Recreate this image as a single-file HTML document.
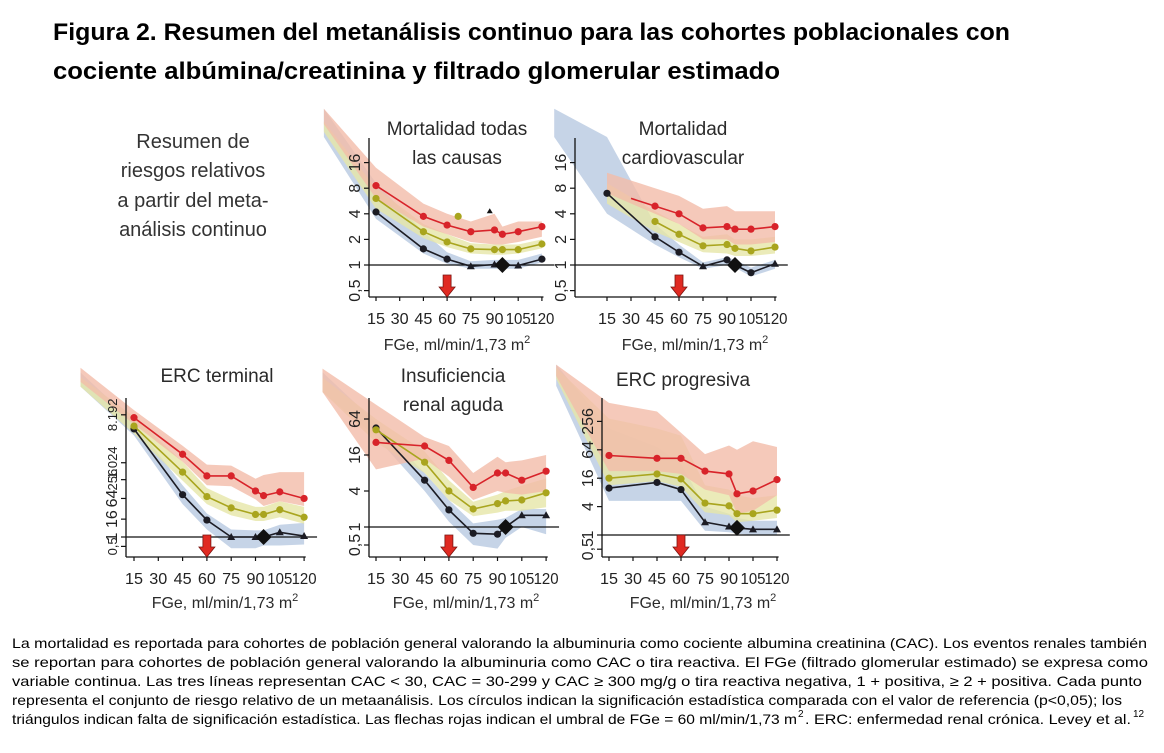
<!DOCTYPE html>
<html><head><meta charset="utf-8">
<style>
html,body{margin:0;padding:0;background:#fff;}
svg{display:block;}
text{font-family:"Liberation Sans",sans-serif;}
</style></head>
<body>
<svg id="fig" width="1164" height="753" viewBox="0 0 1164 753" xmlns="http://www.w3.org/2000/svg">
<text x="53" y="40" font-size="24" font-weight="bold" fill="#000" textLength="957" lengthAdjust="spacingAndGlyphs">Figura 2. Resumen del metanálisis continuo para las cohortes poblacionales con</text>
<text x="53" y="79" font-size="24" font-weight="bold" fill="#000" textLength="727" lengthAdjust="spacingAndGlyphs">cociente albúmina/creatinina y filtrado glomerular estimado</text>
<g font-size="20" fill="#333" text-anchor="middle">
<text x="193" y="148">Resumen de</text>
<text x="193" y="177">riesgos relativos</text>
<text x="193" y="207">a partir del meta-</text>
<text x="193" y="236">análisis continuo</text>
</g>
<g id="panels"></g>
<g font-size="14" fill="#000">
<text x="12" y="648" textLength="1135" lengthAdjust="spacingAndGlyphs">La mortalidad es reportada para cohortes de población general valorando la albuminuria como cociente albumina creatinina (CAC). Los eventos renales también</text>
<text x="12" y="667" textLength="1136" lengthAdjust="spacingAndGlyphs">se reportan para cohortes de población general valorando la albuminuria como CAC o tira reactiva. El FGe (filtrado glomerular estimado) se expresa como</text>
<text x="12" y="686" textLength="1130" lengthAdjust="spacingAndGlyphs">variable continua. Las tres líneas representan CAC &lt; 30, CAC = 30-299 y CAC ≥ 300 mg/g o tira reactiva negativa, 1 + positiva, ≥ 2 + positiva. Cada punto</text>
<text x="12" y="705" textLength="1110" lengthAdjust="spacingAndGlyphs">representa el conjunto de riesgo relativo de un metaanálisis. Los círculos indican la significación estadística comparada con el valor de referencia (p&lt;0,05); los</text>
<text x="12" y="724" textLength="785" lengthAdjust="spacingAndGlyphs">triángulos indican falta de significación estadística. Las flechas rojas indican el umbral de FGe = 60 ml/min/1,73 m</text>
<text x="798" y="717" font-size="10">2</text>
<text x="805" y="724" font-size="14" textLength="326" lengthAdjust="spacingAndGlyphs">. ERC: enfermedad renal crónica. Levey et al.</text>
<text x="1133" y="717" font-size="10">12</text>
</g>
</svg>
<script>
// ---- data (log2 of relative risk) ----
const xTicks=[15,30,45,60,75,90,105,120];
const ptX=[15,45,60,75,90,95,105,120];
const bandX=[-18,15,45,60,75,90,95,105,120];
const blkShapes1=['c','c','c','t','t','d','t','c'];
const blkShapes2=['c','c','c','t','c','d','c','t'];
const blkShapes3=['c','c','c','t','t','d','t','t'];
const blkShapes4=['c','c','c','c','c','d','t','t'];
const blkShapes5=['c','c','c','t','t','d','t','t'];
// Panel 1 Mortalidad todas las causas
const p1Red=[3.1,1.9,1.56,1.3,1.37,1.2,1.3,1.5];
const p1Yel=[2.6,1.3,0.9,0.63,0.6,0.6,0.6,0.82];
const p1Blk=[2.07,0.63,0.23,-0.05,0.02,0,-0.02,0.23];
const p1RedHi=[6.1,3.8,2.4,2.0,1.7,2.0,1.5,1.7,1.7], p1RedLo=[5.5,2.6,1.5,1.2,0.9,0.8,0.8,0.9,1.1];
const p1YelHi=[5.6,3.0,1.6,1.2,0.85,0.8,0.8,0.8,1.0], p1YelLo=[5.2,2.2,1.05,0.7,0.45,0.4,0.4,0.45,0.65];
const p1BluHi=[6.1,3.2,1.3,0.5,0.15,0.2,0.2,0.2,0.45], p1BluLo=[5.0,1.8,0.45,0.05,-0.15,-0.15,-0.15,-0.15,0.1];
// Panel 2 Mortalidad cardiovascular
const p2RedX=[30,45,60,75,90,95,105,120];
const p2Red=[2.6,2.3,2.0,1.45,1.5,1.4,1.4,1.5];
const p2RedMarks=['n','c','c','c','c','c','c','c'];
const p2YelX=[45,60,75,90,95,105,120];
const p2Yel=[1.7,1.2,0.75,0.8,0.65,0.55,0.7];
const p2Blk=[2.8,1.1,0.5,-0.05,0.2,0,-0.3,0.05];
const p2RedHi=[null,3.6,3.0,2.7,2.2,2.3,2.1,2.1,2.1], p2RedLo=[null,2.8,2.0,1.6,1.0,1.0,0.8,0.8,0.9];
const p2YelHi=[null,3.2,2.1,1.6,1.1,1.2,1.0,1.0,1.1], p2YelLo=[null,2.4,1.3,0.9,0.5,0.45,0.35,0.35,0.45];
const p2BluHi=[6.1,5.0,1.6,0.8,0.1,0.3,0.2,-0.1,0.2], p2BluLo=[5.0,2.0,0.8,0.3,-0.15,0.0,-0.1,-0.45,-0.15];
// Panel 3 ERC terminal
const p3Red=[12.7,8.8,6.5,6.5,4.9,4.4,4.8,4.1];
const p3Yel=[11.8,6.9,4.3,3.1,2.4,2.4,2.9,2.1];
const p3Blk=[11.5,4.5,1.8,0,0,0,0.5,0.1];
const p3RedHi=[18,13.5,9.7,7.7,7.6,6.2,6.6,6.9,6.9], p3RedLo=[16.5,12,8,5.5,5.4,4,3.3,3.8,3.3];
const p3YelHi=[17,12.8,8,5.2,4,3.2,3.2,3.8,3.2], p3YelLo=[16,11,6,3.5,2.3,1.7,1.7,2.1,1.4];
const p3BluHi=[17.5,12.2,5.5,2.5,0.8,0.7,0.7,1.3,1.5], p3BluLo=[16,10.8,3.5,0.8,-1.2,-1.2,-0.9,-0.9,-0.8];
// Panel 4 Insuficiencia renal aguda
const p4Red=[4.7,4.5,3.7,2.2,3.0,3.0,2.6,3.1];
const p4Yel=[5.4,3.6,2.0,1.0,1.3,1.45,1.5,1.9];
const p4Blk=[5.5,2.6,0.95,-0.35,-0.4,0,0.65,0.65];
const p4RedHi=[8.8,6.8,5.0,4.5,3.0,3.9,3.6,3.7,4.0], p4RedLo=[7.5,3.2,3.8,2.8,1.5,2.0,1.9,1.8,2.0];
const p4YelHi=[8.3,6.0,4.2,2.6,1.4,1.8,2.0,2.3,2.7], p4YelLo=[7.5,4.7,3.0,1.5,0.6,0.8,0.9,0.9,1.1];
const p4BluHi=[8.6,5.8,3.0,1.5,0.2,0.4,0.5,1.0,1.0], p4BluLo=[7.5,5.0,2.0,0.3,-1.0,-1.2,-0.6,0,-0.4];
// Panel 5 ERC progresiva
const p5Red=[5.6,5.4,5.4,4.5,4.3,2.9,3.1,3.9];
const p5Yel=[4.0,4.3,3.95,2.25,2.05,1.5,1.5,1.75];
const p5Blk=[3.3,3.7,3.2,0.9,0.6,0.5,0.4,0.4];
const p5RedHi=[12,9.3,8.7,7.2,5.7,6.3,6.0,6.6,6.2], p5RedLo=[11.2,4.5,4.5,4.3,3.2,2.8,1.5,1.7,2.8];
const p5YelHi=[11.8,8.2,7.5,7,3.5,3.2,2.8,2.6,2.8], p5YelLo=[11,3.5,3.8,3.4,1.6,1.4,0.9,1.0,1.2];
const p5BluHi=[12,7.5,6.2,5.0,2.0,1.5,1.2,1.0,1.0], p5BluLo=[10.5,2.4,2.4,2.4,0.3,0.2,0.1,0.0,0.0];
// y tick values & labels per panel (panel 3 axis in source is compressed)
const yTicksA=[-1,0,1,2,3,4], yLabelsA=['0,5','1','2','4','8','16'];
const yTicks3=[-1,0,1.9,4.1,6.1,7.9,13], yLabels3=['0,5','1','16','64','256','1.024','8.192'];
const yTicks4=[-1,0,2,4,6], yLabels4=['0,5','1','4','16','64'];
const yTicks5=[-1,0,2,4,6,8], yLabels5=['0,5','1','4','16','64','256'];

const NS='http://www.w3.org/2000/svg';
const root=document.getElementById('panels');
function mk(tag,attrs,parent){const e=document.createElementNS(NS,tag);for(const k in attrs)e.setAttribute(k,attrs[k]);(parent||root).appendChild(e);return e;}

const panels=[
 {name:'mortalidad-todas',axX:369,y1:265,uy:25.6,x15:376,px15:23.7,axTop:138,axBot:297,title:['Mortalidad todas','las causas'],tx:457,ty:135,lx:457,ly:350,
  yt:yTicksA,yl:yLabelsA,red:[ptX,p1Red,null],yel:[ptX,p1Yel],blk:[ptX,p1Blk,blkShapes1],bands:[[p1BluHi,p1BluLo],[p1YelHi,p1YelLo],[p1RedHi,p1RedLo]]},
 {name:'mortalidad-cardiovascular',axX:575,y1:265,uy:25.6,x15:607,px15:24,axTop:138,axBot:297,title:['Mortalidad','cardiovascular'],tx:683,ty:135,lx:695,ly:350,
  yt:yTicksA,yl:yLabelsA,red:[p2RedX,p2Red,p2RedMarks],yel:[p2YelX,p2Yel],blk:[ptX,p2Blk,blkShapes2],bands:[[p2BluHi,p2BluLo],[p2YelHi,p2YelLo],[p2RedHi,p2RedLo]]},
 {name:'erc-terminal',axX:126,y1:537,uy:9.4,x15:134,px15:24.3,axTop:398,axBot:557,title:['ERC terminal'],tx:217,ty:382,lx:225,ly:608,
  yt:yTicks3,yl:yLabels3,red:[ptX,p3Red,null],yel:[ptX,p3Yel],blk:[ptX,p3Blk,blkShapes3],bands:[[p3BluHi,p3BluLo],[p3YelHi,p3YelLo],[p3RedHi,p3RedLo]]},
 {name:'insuficiencia-renal-aguda',axX:369,y1:527,uy:18,x15:376,px15:24.3,axTop:398,axBot:557,title:['Insuficiencia','renal aguda'],tx:453,ty:382,lx:466,ly:608,
  yt:yTicks4,yl:yLabels4,red:[ptX,p4Red,null],yel:[ptX,p4Yel],blk:[ptX,p4Blk,blkShapes4],bands:[[p4BluHi,p4BluLo],[p4YelHi,p4YelLo],[p4RedHi,p4RedLo]]},
 {name:'erc-progresiva',axX:602,y1:535,uy:14.2,x15:609,px15:24,axTop:398,axBot:557,title:['ERC progresiva'],tx:683,ty:386,lx:703,ly:608,
  yt:yTicks5,yl:yLabels5,red:[ptX,p5Red,null],yel:[ptX,p5Yel],blk:[ptX,p5Blk,blkShapes5],bands:[[p5BluHi,p5BluLo],[p5YelHi,p5YelLo],[p5RedHi,p5RedLo]]}
];
const bandFill=['#c3d2e6','#e6e6a8','#f3bca9'];
const lineCol={red:'#d8232a',yel:'#a9a51e',blk:'#1c1c24'};

panels.forEach((P,pi)=>{
 const g=mk('g',{});
 
 
 const sx=v=>P.x15+(v-15)/15*P.px15;
 const sy=v=>P.y1-v*P.uy;
 const topClip=P.axTop-35;
 P.bands.forEach((b,bi)=>{
  const hi=b[0],lo=b[1];const up=[],dn=[];
  bandX.forEach((x,i)=>{if(hi[i]==null)return;up.push([sx(x),Math.max(topClip,sy(hi[i]))]);dn.push([sx(x),Math.max(topClip,sy(lo[i]))]);});
  const pts=up.concat(dn.reverse()).map(p=>p[0].toFixed(1)+','+p[1].toFixed(1)).join(' ');
  const poly=mk('polygon',{points:pts,fill:bandFill[bi],'fill-opacity':bi==0?0.95:0.8},g);
  
  
 });
 const ya=mk('line',{x1:P.axX,y1:P.axTop,x2:P.axX,y2:P.axBot,stroke:'#111','stroke-width':1.3},g);
 
 
 const xa=mk('line',{x1:P.axX,y1:P.axBot,x2:sx(121),y2:P.axBot,stroke:'#111','stroke-width':1.3},g);
 
 
 P.yt.forEach((v,i)=>{
  mk('line',{x1:P.axX-5,y1:sy(v),x2:P.axX,y2:sy(v),stroke:'#111','stroke-width':1.2},g);
  const lab=P.yl[i];
  const fs=(pi==2&&lab.length>2)?13:16;
  const t=mk('text',{x:0,y:0,'font-size':fs,fill:'#222','text-anchor':'middle',transform:`translate(${P.axX-9},${sy(v)}) rotate(-90)`},g);
  t.textContent=lab;
  
  
 });
 xTicks.forEach(v=>{
  mk('line',{x1:sx(v),y1:P.axBot,x2:sx(v),y2:P.axBot+4,stroke:'#111','stroke-width':1.2},g);
  const t=mk('text',{x:sx(v),y:P.axBot+27,'font-size':16,fill:'#222','text-anchor':'middle',textLength:v>=100?25:18,lengthAdjust:'spacingAndGlyphs'},g);
  t.textContent=v;
  
  
 });
 const ref=mk('line',{x1:P.axX,y1:sy(0),x2:sx(128),y2:sy(0),stroke:'#111','stroke-width':1.3},g);
 
 
 function series(key,xs,vals,marks){
  const pts=xs.map((x,i)=>sx(x).toFixed(1)+','+sy(vals[i]).toFixed(1)).join(' ');
  const pl=mk('polyline',{points:pts,fill:'none',stroke:lineCol[key],'stroke-width':1.6},g);
  
  
  xs.forEach((x,i)=>{
   const m=marks?marks[i]:'c';const cx=sx(x),cy=sy(vals[i]);let e;
   if(m=='n')return;
   if(m=='c')e=mk('circle',{cx:cx,cy:cy,r:3.6,fill:lineCol[key]},g);
   else if(m=='t')e=mk('polygon',{points:`${cx},${cy-4} ${cx-4},${cy+3} ${cx+4},${cy+3}`,fill:lineCol[key]},g);
   else e=mk('polygon',{points:`${cx},${cy-8} ${cx+8},${cy} ${cx},${cy+8} ${cx-8},${cy}`,fill:'#111'},g);
   
   
  });
 }
 series('blk',P.blk[0],P.blk[1],P.blk[2]);
 series('yel',P.yel[0],P.yel[1],null);
 series('red',P.red[0],P.red[1],P.red[2]);
 if(pi==0){
  const c=mk('circle',{cx:sx(67),cy:sy(1.9),r:3.6,fill:lineCol.yel},g);
  
  
  const cx=sx(87),cy=sy(2.1);
  const tr=mk('polygon',{points:`${cx},${cy-3} ${cx-3},${cy+2} ${cx+3},${cy+2}`,fill:'#111'},g);
  
  
 }
 const ax=sx(60),ab=P.axBot,at=ab-22;
 const arr=mk('polygon',{points:`${ax-4},${at} ${ax+4},${at} ${ax+4},${ab-10} ${ax+8},${ab-10} ${ax},${ab} ${ax-8},${ab-10} ${ax-4},${ab-10}`,fill:'#e02a22',stroke:'#7a1410','stroke-width':0.8},g);
 
 
 P.title.forEach((s,i)=>{
  const t=mk('text',{x:P.tx,y:P.ty+i*29,'font-size':19,fill:'#2a2a2a','text-anchor':'middle'},g);
  t.textContent=s;
  
  
 });
 const xl=mk('text',{x:P.lx,y:P.ly,'font-size':16,fill:'#2a2a2a','text-anchor':'middle'},g);
 xl.textContent='FGe, ml/min/1,73 m';
 const sup=mk('tspan',{dy:-7,'font-size':11},xl);sup.textContent='2';
 
 
});
</script>
</body></html>
